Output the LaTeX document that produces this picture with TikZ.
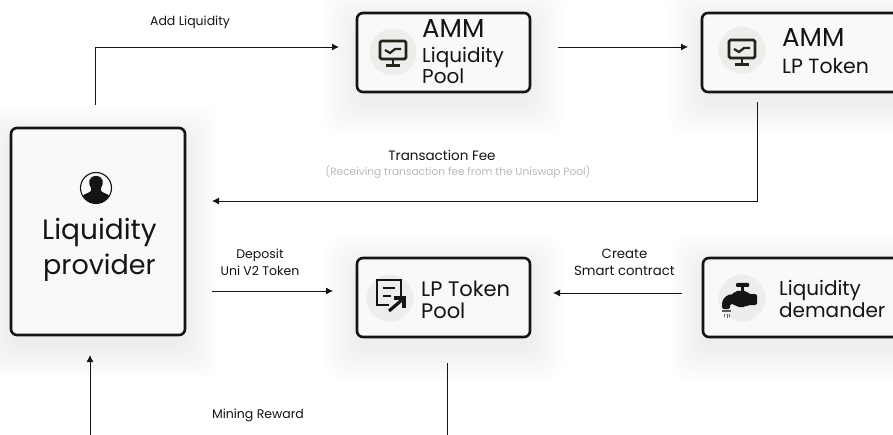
\documentclass[tikz,border=0pt]{standalone}
\usepackage{fontspec}
\setmainfont{Poppins}
\usetikzlibrary{arrows.meta}
\definecolor{ink}{HTML}{141414}
\definecolor{boxfill}{HTML}{F9F9F9}
\definecolor{disc}{HTML}{EDEEEC}
\definecolor{icondark}{HTML}{20261A}
\definecolor{shadowtint}{HTML}{A9B6DC}
\definecolor{soft}{HTML}{B9B9B9}
\tikzset{
  x=1pt,y=-1pt,
  card/.style={draw=ink,line width=2.6pt,fill=boxfill,rounded corners=6pt,minimum width=#1,inner sep=0pt},
  flow/.style={draw=ink,line width=0.9pt,-{Latex[length=7pt,width=7pt]}},
  plainflow/.style={draw=ink,line width=0.9pt},
  lab/.style={font=\fontsize{12.5}{17}\selectfont,text=ink,align=center,inner sep=0pt},
  sublab/.style={font=\fontsize{10.6}{12}\selectfont,text=soft,inner sep=0pt},
  big/.style={font=\fontsize{#1}{#1}\selectfont,text=ink,anchor=base west,inner sep=0pt},
  icondisc/.style={circle,fill=disc,minimum size=47pt,inner sep=0pt},
  pics/monitor/.style={code={
    \draw[icondark,line width=2.6pt,rounded corners=1.5pt] (-13,-10) rectangle (13,8);
    \draw[icondark,line width=2.2pt] (-8,-1) -- (-3,2) -- (2,-2) -- (8,-2);
    \draw[icondark,line width=2.6pt] (0,8) -- (0,14) (-7,14.5) -- (7,14.5);
  }},
}
\newcommand{\softshadow}[4]{%
  \foreach \g in {34,32,...,2}{%
    \fill[shadowtint,opacity=0.012,rounded corners=18pt]
      (#1-\g,#2-\g+10) rectangle (#3+\g,#4+\g+10);}%
}
\begin{document}
\begin{tikzpicture}
\useasboundingbox (0,0) rectangle (893,435);
\fill[white] (0,0) rectangle (893,435);

\softshadow{357}{13}{530}{92}
\softshadow{702}{13}{920}{92}
\softshadow{11}{128}{185}{335}
\softshadow{357}{258}{530}{337}
\softshadow{703}{258}{920}{337}

% boxes
\node[card=173pt,minimum height=79pt] (pool) at (443.5,52.5) {};
\node[card=220pt,minimum height=79pt] (lptoken) at (812,52.5) {};
\node[card=174pt,minimum height=207pt] (provider) at (98,231.5) {};
\node[card=173pt,minimum height=79pt] (lppool) at (443.5,297.5) {};
\node[card=220pt,minimum height=79pt] (demander) at (813,297.5) {};

% icon discs
\node[icondisc] (d1) at (393,52) {};
\node[icondisc] (d2) at (742,50) {};
\node[icondisc] (d3) at (390,298) {};
\node[icondisc] (d4) at (742,298) {};

\pic at (393,51) {monitor};
\pic at (742,50) {monitor};

% document icon
\begin{scope}[shift={(390,298)}]
  \draw[ink,line width=2.4pt] (11,-2) -- (11,-18) -- (-13,-18) -- (-13,7) -- (-1,7);
  \draw[ink,line width=2.4pt] (-7,-10) -- (5,-10) (-7,-2) -- (1,-2);
  \draw[ink,line width=3.2pt] (-1,13) -- (13,1);
  \draw[ink,line width=3.2pt] (4,0) -- (14,0) -- (14,10);
\end{scope}

% faucet icon
\begin{scope}[shift={(742,298)}]
  \fill[ink,rounded corners=1pt] (-6,-15) rectangle (7,-11);
  \fill[ink] (-1.5,-11) rectangle (2,-6);
  \fill[ink,rounded corners=2pt] (-7,-7) -- (5,-7) -- (6,-4) -- (15,-4) -- (15,7) -- (6,7)
     -- (3,9) -- (-5,9) -- (-8,6) -- (-12,6) -- (-12,11) -- (-20,11) -- (-20,3) -- (-15,-3) -- (-8,-4) -- cycle;
  \fill[ink!70] (-20,12) rectangle (-11,14);
  \draw[ink!70,line width=0.7pt] (-18,16) -- (-18,19) (-15,16) -- (-15,20) (-12.5,16) -- (-12.5,19);
\end{scope}

% person icon
\node[circle,draw=ink,line width=1.1pt,minimum size=31pt,inner sep=0pt,path picture={
  \fill[ink] (0,17) -- (-16,17) -- (-16,10) .. controls (-14,6) and (-8,6) .. (-5,3)
    -- (-5,0) .. controls (-8,-4) and (-8,-12) .. (0,-12)
    .. controls (8,-12) and (8,-4) .. (5,0) -- (5,3)
    .. controls (8,6) and (14,6) .. (16,10) -- (16,17) -- cycle;
}] (person) at (96,188) {};

% box text
\node[big=26] (t1) at (422,38) {AMM};
\node[big=20] (t2) at (422,63) {Liquidity};
\node[big=20] (t3) at (422,84) {Pool};
\node[big=26] (t4) at (782,47) {AMM};
\node[big=20.5] (t5) at (782,74) {LP Token};
\node[big=28] (t6) at (42,240) {Liquidity};
\node[big=27] (t7) at (43,275) {provider};
\node[big=21] (t8) at (421,296) {LP Token};
\node[big=21] (t9) at (421,318) {Pool};
\node[big=20] (t10) at (779,295) {Liquidity};
\node[big=20] (t11) at (779,317) {demander};

% labels
\node[lab] (l1) at (190,22) {Add Liquidity};
\node[lab,font=\fontsize{13.5}{17}\selectfont] (l2) at (442,155) {Transaction Fee};
\node[sublab] (l3) at (458,172) {(Receiving transaction fee from the Uniswap Pool)};
\node[lab] (l4) at (260,262.5) {Deposit\\Uni V2 Token};
\node[lab,font=\fontsize{13.3}{17}\selectfont] (l5) at (624.5,262.5) {Create\\Smart contract};
\node[lab] (l6) at (258,415) {Mining Reward};

% connector ends
\coordinate (a0) at (95,105);
\coordinate (a1) at (95,47);
\coordinate (a2) at (339,47);
\coordinate (b0) at (558,47);
\coordinate (b1) at (688,47);
\coordinate (c0) at (757,102);
\coordinate (c1) at (757,201);
\coordinate (c2) at (212,201);
\coordinate (e0) at (212,291);
\coordinate (e1) at (333,291);
\coordinate (f0) at (682,293);
\coordinate (f1) at (553,293);
\coordinate (g0) at (447,363);
\coordinate (g1) at (447,435);
\coordinate (h0) at (90,435);
\coordinate (h1) at (90,355);

\draw[flow] (a0) -- (a1) -- (a2);
\draw[flow] (b0) -- (b1);
\draw[flow] (c0) -- (c1) -- (c2);
\draw[flow] (e0) -- (e1);
\draw[flow] (f0) -- (f1);
\draw[plainflow] (g0) -- (g1);
\draw[flow] (h0) -- (h1);
\end{tikzpicture}
\end{document}
